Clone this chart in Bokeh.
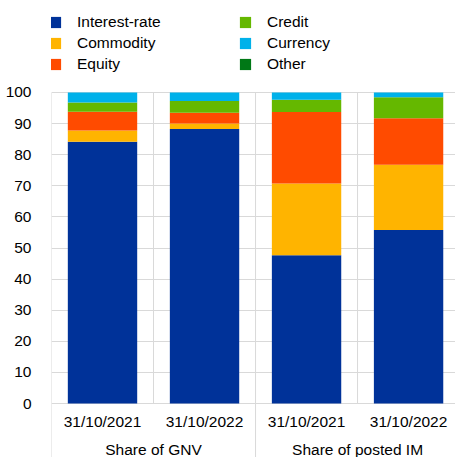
from bokeh.plotting import figure
from bokeh.models import ColumnDataSource, Legend, LegendItem, FixedTicker, Range1d
from bokeh.core.properties import value
from bokeh.embed import file_html
from bokeh.resources import INLINE

dates = ["31/10/2021", "31/10/2022", "31/10/2021", "31/10/2022"]
groups = ["Share of GNV", "Share of posted IM"]
series = ["Interest-rate", "Commodity", "Equity", "Credit", "Currency", "Other"]
interest_rate = [84.2, 88.3, 47.7, 55.8]
commodity = [3.6, 1.7, 23.0, 21.0]
equity = [6.0, 3.5, 23.0, 14.9]
credit = [3.0, 3.8, 4.0, 6.8]
currency = [3.2, 2.7, 2.3, 1.5]
other = [0.0, 0.0, 0.0, 0.0]
yticks = [0, 10, 20, 30, 40, 50, 60, 70, 80, 90, 100]
colors = ["#003299", "#ffb400", "#ff4b00", "#65b800", "#00b1ea", "#007816"]

FONT = "Liberation Sans"
GRID = "#d9d9d9"
FS = "15.5px"

n = len(dates)
xs = [i + 0.5 for i in range(n)]
data = dict(x=xs)
keys = ["ir", "com", "eq", "cr", "cur", "oth"]
for k, v in zip(keys, [interest_rate, commodity, equity, credit, currency, other]):
    data[k] = v
src = ColumnDataSource(data)

p = figure(width=455, height=457, output_backend="svg", toolbar_location=None,
           x_range=Range1d(0, 3.96), y_range=Range1d(-17.36, 129.58),
           min_border_left=51, min_border_right=0, min_border_top=0, min_border_bottom=0)
p.outline_line_color = None
p.xaxis.visible = False
p.xgrid.visible = False

p.yaxis.ticker = FixedTicker(ticks=yticks)
p.yaxis.axis_line_color = None
p.yaxis.major_tick_line_color = None
p.yaxis.minor_tick_line_color = None
p.yaxis.major_label_text_font = FONT
p.yaxis.major_label_text_font_size = FS
p.yaxis.major_label_text_color = "black"
p.yaxis.major_label_standoff = 14
p.ygrid.ticker = FixedTicker(ticks=yticks)
p.ygrid.grid_line_color = GRID
p.ygrid.grid_line_width = 1

# divider lines
top = max(yticks)
bottom = p.y_range.start
x0s, y0s, x1s, y1s = [], [], [], []
per_group = n // len(groups)
for i in range(n + 1):
    x0s.append(i); x1s.append(i); y1s.append(top)
    if i % per_group == 0:
        y0s.append(bottom)
    else:
        y0s.append(0)
p.segment(x0=x0s, y0=y0s, x1=x1s, y1=y1s, line_color=GRID, line_width=1)

renderers = p.vbar_stack(keys, x="x", width=0.68, source=src, color=colors,
                         line_color=None)

# labels
p.text(x=xs, y=[-5.8] * n, text=dates, text_font=value(FONT), text_font_size=FS,
       text_align="center", text_baseline="middle", text_color="black")
gx = [per_group * (g + 0.5) for g in range(len(groups))]
p.text(x=gx, y=[-14.8] * len(groups), text=groups, text_font=value(FONT),
       text_font_size=FS, text_align="center", text_baseline="middle",
       text_color="black")

def make_legend(idx, loc):
    items = [LegendItem(label=series[i], renderers=[renderers[i]]) for i in idx]
    lg = Legend(items=items, location=loc, orientation="vertical",
                glyph_width=14, glyph_height=14, label_height=21, spacing=0,
                label_standoff=15, padding=0, margin=0,
                border_line_color=None, background_fill_alpha=0,
                label_text_font=FONT, label_text_font_size=FS,
                label_text_color="black")
    p.add_layout(lg)

make_legend([0, 1, 2], (-3, 383))
make_legend([3, 4, 5], (187, 383))

open("out.html", "w").write(file_html(p, INLINE))
